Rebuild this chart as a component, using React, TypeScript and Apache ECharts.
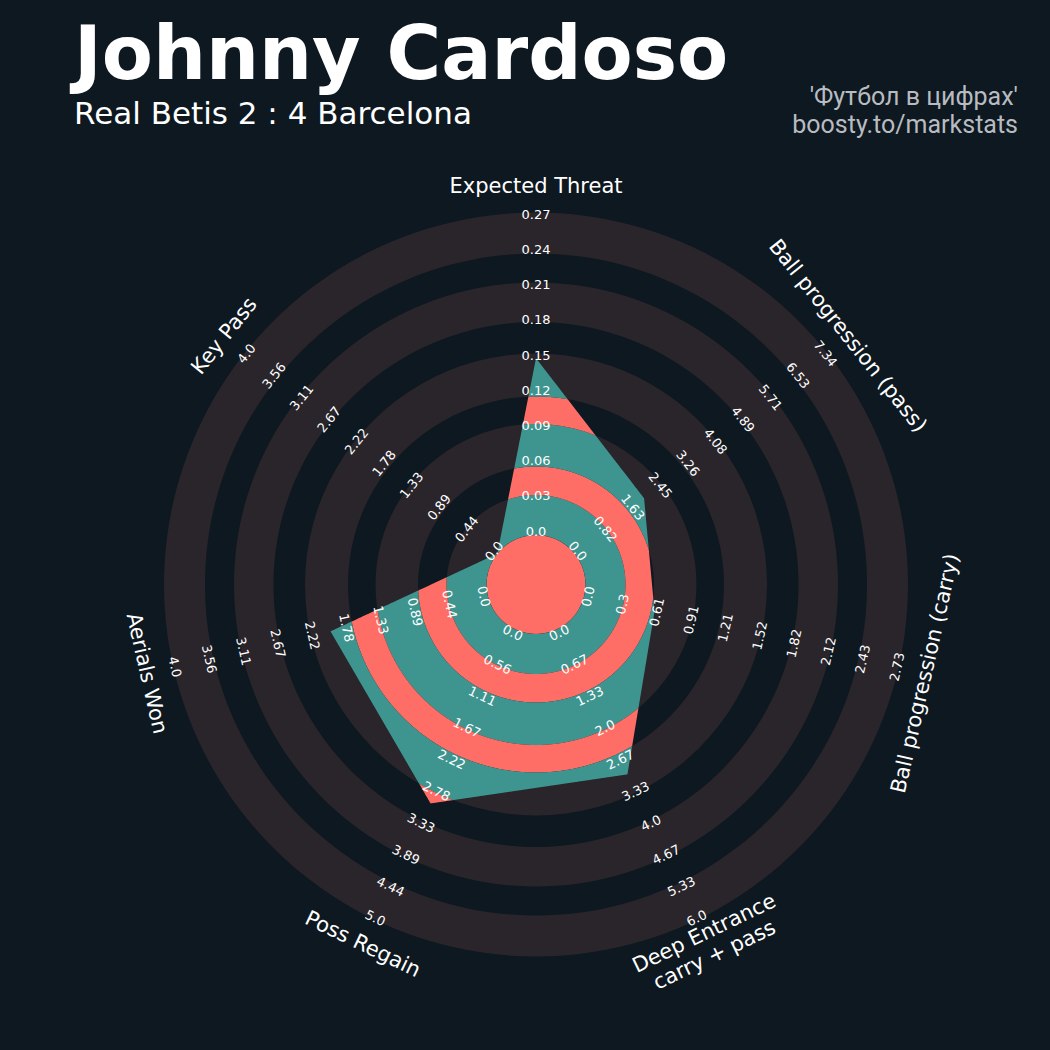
import React, { useEffect, useRef } from "react";
import * as echarts from "echarts";

// ---------------- data ----------------
const PARAMS = [
  "Expected Threat",
  "Ball progression (pass)",
  "Ball progression (carry)",
  "Deep Entrance\ncarry + pass",
  "Poss Regain",
  "Aerials Won",
  "Key Pass",
];
const MIN_RANGE = [0, 0, 0, 0, 0, 0, 0];
const MAX_RANGE = [0.27, 7.34, 2.73, 6.0, 5.0, 4.0, 4.0];
const VALUES = [0.148, 2.02, 0.61, 3.0, 3.0, 2.0, 0.0];
const TICK_LABELS = [
  ["0.0", "0.03", "0.06", "0.09", "0.12", "0.15", "0.18", "0.21", "0.24", "0.27"],
  ["0.0", "0.82", "1.63", "2.45", "3.26", "4.08", "4.89", "5.71", "6.53", "7.34"],
  ["0.0", "0.3", "0.61", "0.91", "1.21", "1.52", "1.82", "2.12", "2.43", "2.73"],
  ["0.0", "0.67", "1.33", "2.0", "2.67", "3.33", "4.0", "4.67", "5.33", "6.0"],
  ["0.0", "0.56", "1.11", "1.67", "2.22", "2.78", "3.33", "3.89", "4.44", "5.0"],
  ["0.0", "0.44", "0.89", "1.33", "1.78", "2.22", "2.67", "3.11", "3.56", "4.0"],
  ["0.0", "0.44", "0.89", "1.33", "1.78", "2.22", "2.67", "3.11", "3.56", "4.0"],
];
const TITLE = "Johnny Cardoso";
const SUBTITLE = "Real Betis 2 : 4 Barcelona";
const CREDIT = ["'Футбол в цифрах'", "boosty.to/markstats"];

// ---------------- geometry / style ----------------
const BG = "#0e1820";
const RING = "#29252b";
const TEAL = "#3e958f";
const SALMON = "#ff6e66";
const N_AX = PARAMS.length;
const OUTER_PX = 372;
const CENTER_U = 49.5 / OUTER_PX;
const RING_EDGES_PX = [49.5, 89.5, 118, 160.5, 188, 231, 262.5, 302, 331, 372];
const LABEL_R0_PX = 53.5;
const LABEL_STEP_PX = 35.2;
const PARAM_R_PX = 399;

const axisAngle = (k: number) => (k * 360) / N_AX;
const textRot = (k: number) => {
  let rot = -axisAngle(k);
  while (rot <= -180) rot += 360;
  while (rot > 180) rot -= 360;
  if (rot < -90) rot += 180;
  if (rot > 90) rot -= 180;
  return (rot * Math.PI) / 180;
};

// polygon clipped to an annulus [r1, r2] (star-shaped polygon around centre)
const BandShape = (echarts as any).graphic.extendShape({
  type: "radarBand",
  shape: { cx: 0, cy: 0, pts: [], r1: 0, r2: 0 },
  buildPath(ctx: any, shape: any) {
    const { cx, cy, pts, r1, r2 } = shape;
    if (!pts || !pts.length) return;
    const rel = pts.map((p: number[]) => [p[0] - cx, p[1] - cy]);
    const n = rel.length;
    const R = (phi: number) => {
      const dx = Math.cos(phi), dy = Math.sin(phi);
      let best = 0;
      for (let k = 0; k < n; k++) {
        const a = rel[k], b = rel[(k + 1) % n];
        const ex = b[0] - a[0], ey = b[1] - a[1];
        const den = dx * ey - dy * ex;
        if (Math.abs(den) < 1e-12) continue;
        const t = (a[0] * ey - a[1] * ex) / den;
        const s = (a[0] * dy - a[1] * dx) / den;
        if (s >= -1e-9 && s <= 1 + 1e-9 && t > 0) best = Math.max(best, t);
      }
      return best;
    };
    const N = 2880;
    const angs: number[] = [];
    for (let i = 0; i < N; i++) angs.push((i / N) * Math.PI * 2);
    rel.forEach((p: number[]) => {
      let a = Math.atan2(p[1], p[0]);
      if (a < 0) a += Math.PI * 2;
      angs.push(a);
    });
    angs.sort((a, b) => a - b);
    angs.forEach((phi, i) => {
      const rho = Math.min(r2, Math.max(r1, R(phi)));
      const x = cx + rho * Math.cos(phi), y = cy + rho * Math.sin(phi);
      if (i === 0) ctx.moveTo(x, y);
      else ctx.lineTo(x, y);
    });
    ctx.closePath();
    if (r1 > 0) {
      for (let i = angs.length - 1; i >= 0; i--) {
        const phi = angs[i];
        const x = cx + r1 * Math.cos(phi), y = cy + r1 * Math.sin(phi);
        if (i === angs.length - 1) ctx.moveTo(x, y);
        else ctx.lineTo(x, y);
      }
      ctx.closePath();
    }
  },
});
(echarts as any).graphic.registerShape("radarBand", BandShape);

const centerAndPx = (api: any) => {
  const c = api.coord([0, 0]);
  const px = (u: number) => {
    const p = api.coord([u, 0]);
    return Math.hypot(p[0] - c[0], p[1] - c[1]);
  };
  return { c, px };
};

const tickItems: { k: number; i: number }[] = [];
TICK_LABELS.forEach((arr, k) => arr.forEach((_, i) => tickItems.push({ k, i })));

export default function App() {
  const ref = useRef<HTMLDivElement>(null);
  useEffect(() => {
    if (!ref.current) return;
    const chart = echarts.init(ref.current, null, { renderer: "svg" });
    const option: any = {
      animation: false,
      backgroundColor: BG,
      polar: { center: [536, 584.5], radius: OUTER_PX },
      angleAxis: { type: "value", min: 0, max: 360, startAngle: 90, clockwise: true, show: false },
      radiusAxis: { type: "value", min: 0, max: 1, show: false },
      series: [
        {
          type: "custom",
          coordinateSystem: "polar",
          silent: true,
          data: [0, 1, 2, 3, 4].map((i) => [i, 0]),
          renderItem: (params: any, api: any) => {
            const { c, px } = centerAndPx(api);
            const j = params.dataIndex * 2;
            return {
              type: "ring",
              shape: {
                cx: c[0],
                cy: c[1],
                r0: px(RING_EDGES_PX[j] / OUTER_PX),
                r: px(RING_EDGES_PX[j + 1] / OUTER_PX),
              },
              style: { fill: RING },
            };
          },
        },
        {
          type: "custom",
          coordinateSystem: "polar",
          silent: true,
          data: [[0, 0]],
          renderItem: (params: any, api: any) => {
            const { c, px } = centerAndPx(api);
            const pts = VALUES.map((v, k) =>
              api.coord([
                CENTER_U + ((1 - CENTER_U) * (v - MIN_RANGE[k])) / (MAX_RANGE[k] - MIN_RANGE[k]),
                axisAngle(k),
              ])
            );
            const children: any[] = [
              { type: "circle", shape: { cx: c[0], cy: c[1], r: px(CENTER_U) }, style: { fill: SALMON } },
            ];
            for (let i = 0; i < RING_EDGES_PX.length - 1; i++) {
              children.push({
                type: "radarBand",
                shape: {
                  cx: c[0],
                  cy: c[1],
                  pts,
                  r1: px(RING_EDGES_PX[i] / OUTER_PX),
                  r2: px(RING_EDGES_PX[i + 1] / OUTER_PX),
                },
                style: { fill: i % 2 === 0 ? TEAL : SALMON },
              });
            }
            return { type: "group", children };
          },
        },
        {
          type: "custom",
          coordinateSystem: "polar",
          silent: true,
          data: tickItems.map(() => [0, 0]),
          renderItem: (params: any, api: any) => {
            const { k, i } = tickItems[params.dataIndex];
            const p = api.coord([(LABEL_R0_PX + i * LABEL_STEP_PX) / OUTER_PX, axisAngle(k)]);
            return {
              type: "text",
              x: p[0],
              y: p[1],
              rotation: textRot(k),
              style: {
                text: TICK_LABELS[k][i],
                fill: "#ffffff",
                font: '13px "DejaVu Sans"',
                align: "center",
                verticalAlign: "middle",
                textAlign: "center",
                textVerticalAlign: "middle",
              },
            };
          },
        },
        {
          type: "custom",
          coordinateSystem: "polar",
          silent: true,
          data: PARAMS.map(() => [0, 0]),
          renderItem: (params: any, api: any) => {
            const k = params.dataIndex;
            const p = api.coord([PARAM_R_PX / OUTER_PX, axisAngle(k)]);
            return {
              type: "text",
              x: p[0],
              y: p[1],
              rotation: textRot(k),
              style: {
                text: PARAMS[k],
                fill: "#ffffff",
                font: '21px "DejaVu Sans"',
                lineHeight: 24,
                align: "center",
                verticalAlign: "middle",
                textAlign: "center",
                textVerticalAlign: "middle",
              },
            };
          },
        },
      ],
      graphic: [
        {
          type: "text",
          x: 74,
          y: 53,
          silent: true,
          style: {
            text: TITLE,
            fill: "#ffffff",
            font: 'bold 74.5px "DejaVu Sans"',
            align: "left",
            verticalAlign: "middle",
            textAlign: "left",
            textVerticalAlign: "middle",
          },
        },
        {
          type: "text",
          x: 74,
          y: 113,
          silent: true,
          style: {
            text: SUBTITLE,
            fill: "#ffffff",
            font: '31px "DejaVu Sans"',
            align: "left",
            verticalAlign: "middle",
            textAlign: "left",
            textVerticalAlign: "middle",
          },
        },
        ...CREDIT.map((t, i) => ({
          type: "text",
          x: 1018,
          y: 96 + i * 28,
          silent: true,
          style: {
            text: t,
            fill: "#b8bcc1",
            font: "25px Roboto",
            align: "right",
            verticalAlign: "middle",
            textAlign: "right",
            textVerticalAlign: "middle",
          },
        })),
      ],
    };
    chart.setOption(option);
    return () => chart.dispose();
  }, []);
  return (
    <div
      ref={ref}
      style={{ position: "absolute", left: 0, top: 0, width: 1050, height: 1050 }}
    />
  );
}
